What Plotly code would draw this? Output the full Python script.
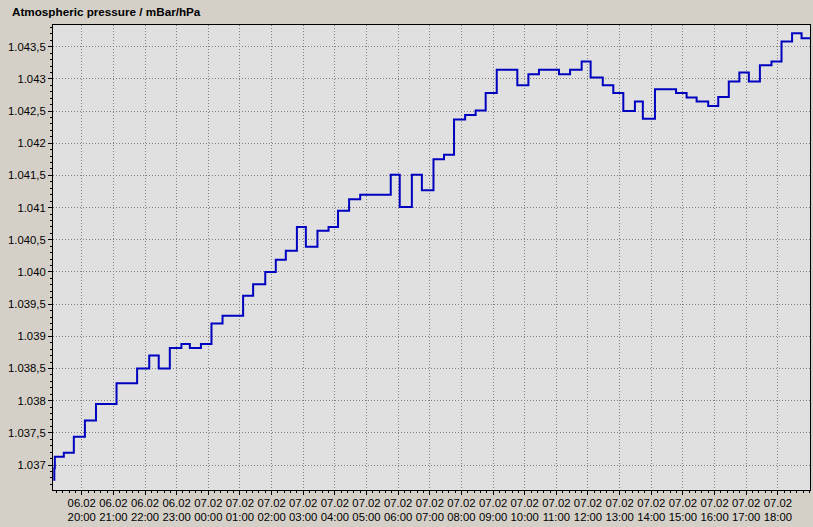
import plotly.graph_objects as go

# Time stamps (step starts) and pressure values in hPa
times = [
    "2013-02-06 19:06", "2013-02-06 19:08", "2013-02-06 19:09", "2013-02-06 19:26",
    "2013-02-06 19:45", "2013-02-06 20:06", "2013-02-06 20:27", "2013-02-06 21:06",
    "2013-02-06 21:45", "2013-02-06 22:08", "2013-02-06 22:26", "2013-02-06 22:47",
    "2013-02-06 23:09", "2013-02-06 23:25", "2013-02-06 23:46", "2013-02-07 00:06",
    "2013-02-07 00:27", "2013-02-07 01:06", "2013-02-07 01:25", "2013-02-07 01:48",
    "2013-02-07 02:08", "2013-02-07 02:27", "2013-02-07 02:48", "2013-02-07 03:05",
    "2013-02-07 03:27", "2013-02-07 03:48", "2013-02-07 04:06", "2013-02-07 04:27",
    "2013-02-07 04:48", "2013-02-07 05:46", "2013-02-07 06:03", "2013-02-07 06:26",
    "2013-02-07 06:45", "2013-02-07 07:07", "2013-02-07 07:27", "2013-02-07 07:46",
    "2013-02-07 08:07", "2013-02-07 08:27", "2013-02-07 08:46", "2013-02-07 09:07",
    "2013-02-07 09:46", "2013-02-07 10:07", "2013-02-07 10:27", "2013-02-07 11:05",
    "2013-02-07 11:26", "2013-02-07 11:48", "2013-02-07 12:05", "2013-02-07 12:28",
    "2013-02-07 12:48", "2013-02-07 13:07", "2013-02-07 13:29", "2013-02-07 13:44",
    "2013-02-07 14:07", "2013-02-07 14:47", "2013-02-07 15:07", "2013-02-07 15:26",
    "2013-02-07 15:48", "2013-02-07 16:07", "2013-02-07 16:27", "2013-02-07 16:47",
    "2013-02-07 17:05", "2013-02-07 17:26", "2013-02-07 17:48", "2013-02-07 18:07",
    "2013-02-07 18:27", "2013-02-07 18:45", "2013-02-07 19:01",
]
pressure = [
    1036.77, 1036.95, 1037.13, 1037.19,
    1037.44, 1037.69, 1037.95, 1038.27,
    1038.50, 1038.70, 1038.50, 1038.82,
    1038.88, 1038.82, 1038.88, 1039.20,
    1039.32, 1039.63, 1039.81, 1040.00,
    1040.19, 1040.33, 1040.70, 1040.39,
    1040.64, 1040.70, 1040.95, 1041.13,
    1041.20, 1041.51, 1041.01, 1041.51,
    1041.27, 1041.75, 1041.82, 1042.37,
    1042.44, 1042.51, 1042.78, 1043.14,
    1042.90, 1043.07, 1043.14, 1043.07,
    1043.14, 1043.27, 1043.02, 1042.90,
    1042.78, 1042.50, 1042.65, 1042.38,
    1042.84, 1042.78, 1042.71, 1042.65,
    1042.58, 1042.72, 1042.96, 1043.10,
    1042.96, 1043.21, 1043.27, 1043.58,
    1043.71, 1043.63, 1043.63,
]

# Axis ticks
x_tickvals = [
    "2013-02-06 20:00", "2013-02-06 21:00", "2013-02-06 22:00", "2013-02-06 23:00",
    "2013-02-07 00:00", "2013-02-07 01:00", "2013-02-07 02:00", "2013-02-07 03:00",
    "2013-02-07 04:00", "2013-02-07 05:00", "2013-02-07 06:00", "2013-02-07 07:00",
    "2013-02-07 08:00", "2013-02-07 09:00", "2013-02-07 10:00", "2013-02-07 11:00",
    "2013-02-07 12:00", "2013-02-07 13:00", "2013-02-07 14:00", "2013-02-07 15:00",
    "2013-02-07 16:00", "2013-02-07 17:00", "2013-02-07 18:00",
]
x_ticktext = [
    "06.02<br>20:00", "06.02<br>21:00", "06.02<br>22:00", "06.02<br>23:00",
    "07.02<br>00:00", "07.02<br>01:00", "07.02<br>02:00", "07.02<br>03:00",
    "07.02<br>04:00", "07.02<br>05:00", "07.02<br>06:00", "07.02<br>07:00",
    "07.02<br>08:00", "07.02<br>09:00", "07.02<br>10:00", "07.02<br>11:00",
    "07.02<br>12:00", "07.02<br>13:00", "07.02<br>14:00", "07.02<br>15:00",
    "07.02<br>16:00", "07.02<br>17:00", "07.02<br>18:00",
]
y_tickvals = [1037.0, 1037.5, 1038.0, 1038.5, 1039.0, 1039.5, 1040.0,
              1040.5, 1041.0, 1041.5, 1042.0, 1042.5, 1043.0, 1043.5]
y_ticktext = ["1.037", "1.037,5", "1.038", "1.038,5", "1.039", "1.039,5", "1.040",
              "1.040,5", "1.041", "1.041,5", "1.042", "1.042,5", "1.043", "1.043,5"]

title_text = "Atmospheric pressure / mBar/hPa"

fig = go.Figure()
fig.add_trace(go.Scatter(
    x=times, y=pressure, mode="lines",
    line=dict(color="#0000C0", width=2, shape="hv"),
    hoverinfo="x+y",
))

fig.update_layout(
    width=813, height=527,
    margin=dict(l=53, r=3, t=25, b=37),
    paper_bgcolor="#D4D0C8",
    plot_bgcolor="#E0E0E0",
    showlegend=False,
    font=dict(family="Liberation Sans, Arial, sans-serif", size=11.3, color="#000000"),
    annotations=[dict(
        text="<b>" + title_text + "</b>", xref="paper", yref="paper",
        x=-43 / 757, y=1 + 13 / 465, xanchor="left", yanchor="middle",
        showarrow=False, font=dict(size=11.7, color="#000000"),
    )],
)

fig.update_xaxes(
    range=["2013-02-06 19:05:30", "2013-02-07 19:01:00"],
    tickvals=x_tickvals, ticktext=x_ticktext,
    tickangle=0, automargin=False, ticklabelstandoff=-2,
    showgrid=True, gridcolor="#808080", griddash="1px,2px", gridwidth=1,
    showline=True, linecolor="#000000", linewidth=1, mirror=True,
    ticks="outside", ticklen=4, tickcolor="#000000",
    minor=dict(dtick=720000, tick0="2013-02-06 20:00", ticks="outside",
               ticklen=2, tickcolor="#000000", showgrid=False),
    zeroline=False,
    tickfont=dict(size=11.3, color="#000000"),
)
fig.update_yaxes(
    range=[1036.612, 1043.837],
    tickvals=y_tickvals, ticktext=y_ticktext,
    automargin=False,
    showgrid=True, gridcolor="#808080", griddash="1px,2px", gridwidth=1,
    showline=True, linecolor="#000000", linewidth=1, mirror=True,
    ticks="outside", ticklen=4, tickcolor="#000000",
    minor=dict(dtick=0.1, tick0=1037.0, ticks="outside",
               ticklen=2, tickcolor="#000000", showgrid=False),
    zeroline=False,
    tickfont=dict(size=11.3, color="#000000"),
)

fig.write_html(
    "out.html",
    config={"displayModeBar": False},
    post_script="document.body.style.margin='0';document.body.style.overflow='hidden';",
)
